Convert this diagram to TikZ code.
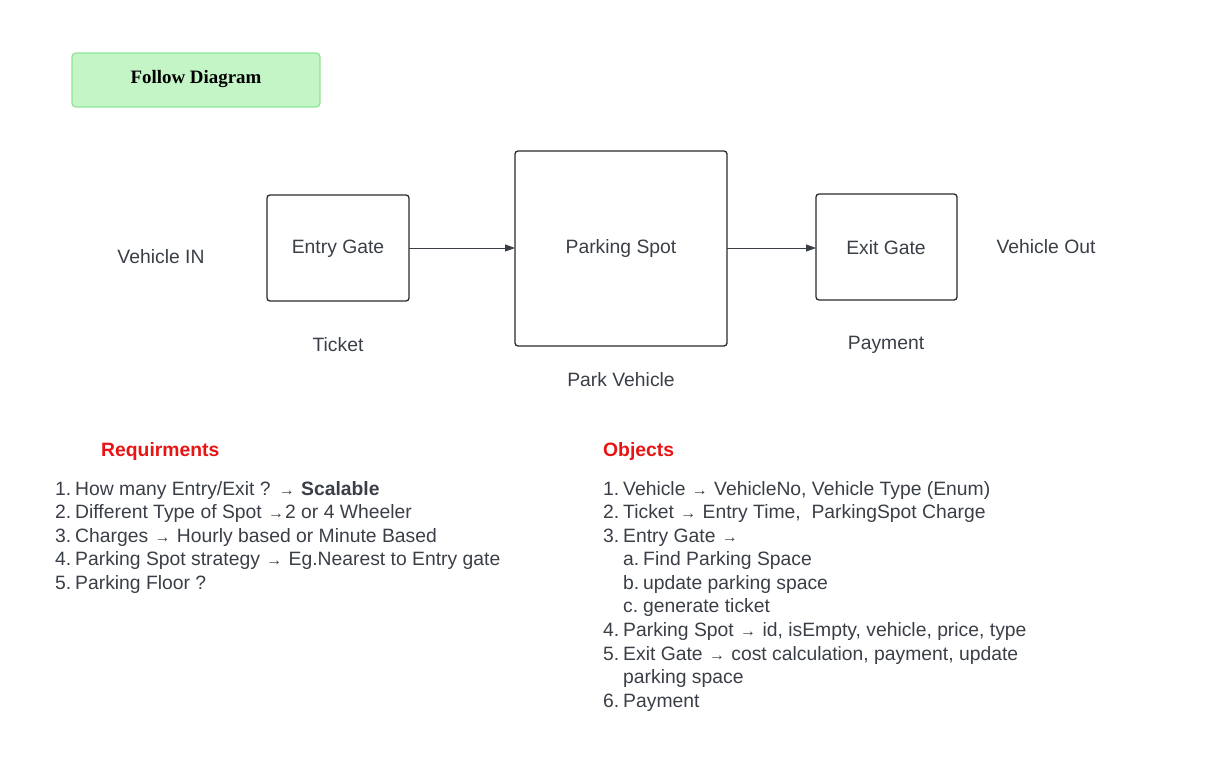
\documentclass[tikz,border=0pt]{standalone}
\usepackage{fontspec}
\setmainfont{Liberation Sans}
\newfontfamily\titlefont{Liberation Serif}
\usetikzlibrary{arrows.meta}
\definecolor{txt}{HTML}{3A3F47}
\definecolor{boxline}{HTML}{2A2A2A}
\definecolor{greenfill}{HTML}{C3F5C7}
\definecolor{greenline}{HTML}{8FE597}
\definecolor{headred}{HTML}{E81313}
\newcommand{\arr}{\hspace{1bp}{\fontsize{16}{16}\selectfont →}\hspace{1bp}}
\tikzset{
  blockbox/.style={draw=boxline, line width=1.3bp, rounded corners=3bp},
  lbl/.style={text=txt, font=\fontsize{19.4}{22}\selectfont, inner sep=0pt},
  li/.style={text=txt, font=\fontsize{19.4}{22}\selectfont, inner sep=0pt, anchor=base west},
  head/.style={text=headred, font=\bfseries\fontsize{19.4}{22}\selectfont, inner sep=0pt, anchor=base west},
  flow/.style={draw=txt, line width=0.9bp, -{Triangle[length=10bp,width=7bp]}}
}
\begin{document}
\begin{tikzpicture}[x=1bp,y=-1bp]
\useasboundingbox (0,0) rectangle (1205,765);
% title
\draw[fill=greenfill, draw=greenline, line width=1.3bp, rounded corners=4bp] (72,53) rectangle (320,107);
\node[font=\titlefont\bfseries\fontsize{19}{22}\selectfont, text=black] (title) at (196,79) {Follow Diagram};
% boxes
\draw[blockbox] (267,195) rectangle (409,301);
\node[lbl] (entry) at (338,249) {Entry Gate};
\draw[blockbox] (515,151) rectangle (727,346);
\node[lbl] (spot) at (621,249) {Parking Spot};
\draw[blockbox] (816,194) rectangle (957,300);
\node[lbl] (exit) at (886,248) {Exit Gate};
\coordinate (e1) at (409,248);
\coordinate (s1) at (515,248);
\coordinate (s2) at (727,248);
\coordinate (x1) at (816,248);
\draw[flow] (e1) -- (s1);
\draw[flow] (s2) -- (x1);
% labels
\node[lbl] (vin) at (161,257) {Vehicle IN};
\node[lbl] (ticket) at (338,345) {Ticket};
\node[lbl] (park) at (621,380) {Park Vehicle};
\node[lbl] (pay) at (886,345) {Payment};
\node[lbl] (vout) at (1046,247) {Vehicle Out};
% requirements
\node[head] (rh) at (101,456) {Requirments};
\foreach \n/\y/\t in {1/495/{How many Entry/Exit ? \arr{} \textbf{Scalable}},
  2/518/{Different Type of Spot \arr2 or 4 Wheeler},
  3/542/{Charges \arr{} Hourly based or Minute Based},
  4/565/{Parking Spot strategy \arr{} Eg.Nearest to Entry gate},
  5/589/{Parking Floor ?}}{
  \node[li] (rn\n) at (55,\y) {\n.};
  \node[li] (rt\n) at (75,\y) {\t};
}
% objects
\node[head] (oh) at (603,456) {Objects};
\node[li] (on1) at (603,495) {1.};
\node[li] (ot1) at (623,495) {Vehicle \arr{} VehicleNo, Vehicle Type (Enum)};
\node[li] (on2) at (603,518) {2.};
\node[li] (ot2) at (623,518) {Ticket \arr{} Entry Time,\ \ ParkingSpot Charge};
\node[li] (on3) at (603,542) {3.};
\node[li] (ot3) at (623,542) {Entry Gate \arr};
\node[li] (oa) at (623,565) {a.};
\node[li] (ota) at (643,565) {Find Parking Space};
\node[li] (ob) at (623,589) {b.};
\node[li] (otb) at (643,589) {update parking space};
\node[li] (oc) at (623,612) {c.};
\node[li] (otc) at (643,612) {generate ticket};
\node[li] (on4) at (603,636) {4.};
\node[li] (ot4) at (623,636) {Parking Spot \arr{} id, isEmpty, vehicle, price, type};
\node[li] (on5) at (603,660) {5.};
\node[li] (ot5) at (623,660) {Exit Gate \arr{} cost calculation, payment, update};
\node[li] (ot5b) at (623,683) {parking space};
\node[li] (on6) at (603,707) {6.};
\node[li] (ot6) at (623,707) {Payment};
\end{tikzpicture}
\end{document}
